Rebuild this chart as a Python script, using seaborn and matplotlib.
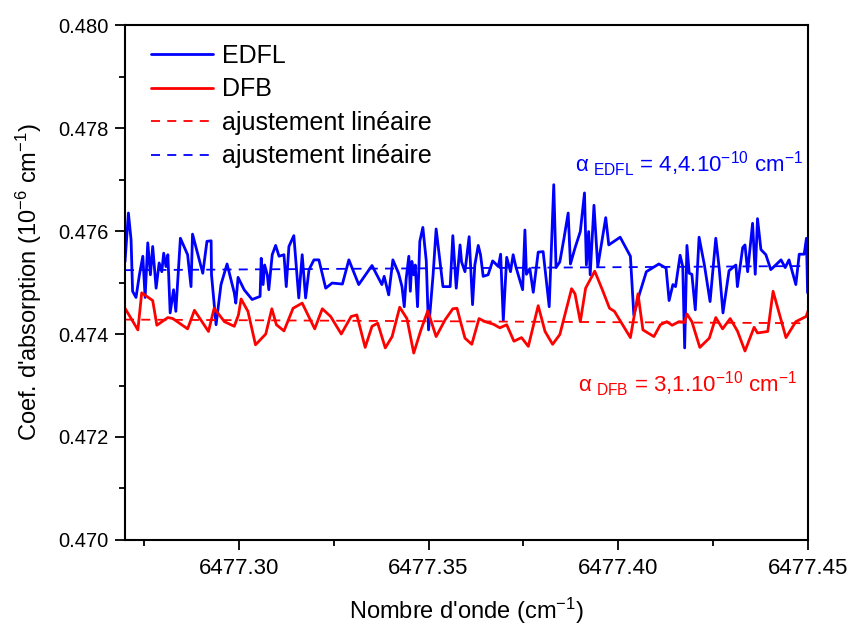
import numpy as np
import pandas as pd
import matplotlib
matplotlib.use('Agg')
import matplotlib.pyplot as plt
from matplotlib.ticker import MultipleLocator, FormatStrFormatter
import seaborn as sns

# data
edfl_x = [6477.2700, 6477.2709, 6477.2716, 6477.2720, 6477.2729, 6477.2738, 6477.2747, 6477.2753, 6477.2760, 6477.2767,
          6477.2773, 6477.2782, 6477.2790, 6477.2797, 6477.2802, 6477.2808, 6477.2813, 6477.2819, 6477.2828, 6477.2834,
          6477.2846, 6477.2865, 6477.2874, 6477.2878, 6477.2905, 6477.2916, 6477.2927, 6477.2928, 6477.2940, 6477.2953,
          6477.2969, 6477.2988, 6477.2992, 6477.2998, 6477.3014, 6477.3035, 6477.3056, 6477.3059, 6477.3064, 6477.3068,
          6477.3075, 6477.3079, 6477.3088, 6477.3097, 6477.3106, 6477.3119, 6477.3125, 6477.3132, 6477.3145, 6477.3158,
          6477.3167, 6477.3176, 6477.3185, 6477.3198, 6477.3211, 6477.3229, 6477.3246, 6477.3273, 6477.3290, 6477.3316,
          6477.3351, 6477.3377, 6477.3383, 6477.3395, 6477.3406, 6477.3421, 6477.3430, 6477.3436, 6477.3441, 6477.3448,
          6477.3452, 6477.3456, 6477.3461, 6477.3465, 6477.3471, 6477.3477, 6477.3485, 6477.3494, 6477.3500, 6477.3512,
          6477.3520, 6477.3538, 6477.3557, 6477.3564, 6477.3573, 6477.3583, 6477.3587, 6477.3596, 6477.3607, 6477.3616,
          6477.3622, 6477.3631, 6477.3637, 6477.3644, 6477.3657, 6477.3669, 6477.3684, 6477.3690, 6477.3697, 6477.3706,
          6477.3716, 6477.3723, 6477.3730, 6477.3748, 6477.3754, 6477.3758, 6477.3767, 6477.3776, 6477.3789, 6477.3802,
          6477.3818, 6477.3830, 6477.3836, 6477.3846, 6477.3857, 6477.3868, 6477.3874, 6477.3886, 6477.3900, 6477.3911,
          6477.3916, 6477.3922, 6477.3926, 6477.3936, 6477.3946, 6477.3967, 6477.3975, 6477.4005, 6477.4032, 6477.4041,
          6477.4056, 6477.4074, 6477.4107, 6477.4126, 6477.4134, 6477.4144, 6477.4151, 6477.4163, 6477.4170, 6477.4175,
          6477.4181, 6477.4187, 6477.4194, 6477.4203, 6477.4213, 6477.4227, 6477.4242, 6477.4257, 6477.4266, 6477.4276,
          6477.4292, 6477.4310, 6477.4314, 6477.4328, 6477.4334, 6477.4341, 6477.4354, 6477.4361, 6477.4367, 6477.4376,
          6477.4389, 6477.4402, 6477.4415, 6477.4429, 6477.4440, 6477.4450, 6477.4468, 6477.4477, 6477.4490, 6477.4496,
          6477.4499]
edfl_y = [0.47540, 0.47635, 0.47583, 0.47483, 0.47471, 0.47515, 0.47551, 0.47471, 0.47577, 0.47515,
          0.47570, 0.47489, 0.47538, 0.47521, 0.47557, 0.47531, 0.47554, 0.47441, 0.47486, 0.47444,
          0.47586, 0.47554, 0.47492, 0.47594, 0.47518, 0.47580, 0.47581, 0.47515, 0.47418, 0.47496,
          0.47536, 0.47480, 0.47460, 0.47510, 0.47486, 0.47467, 0.47473, 0.47547, 0.47496, 0.47534,
          0.47515, 0.47486, 0.47554, 0.47572, 0.47551, 0.47554, 0.47492, 0.47570, 0.47591, 0.47470,
          0.47554, 0.47470, 0.47525, 0.47544, 0.47544, 0.47489, 0.47499, 0.47497, 0.47544, 0.47496,
          0.47533, 0.47496, 0.47512, 0.47476, 0.47544, 0.47518, 0.47492, 0.47453, 0.47507, 0.47551,
          0.47483, 0.47541, 0.47515, 0.47534, 0.47453, 0.47580, 0.47607, 0.47542, 0.47408, 0.47515,
          0.47604, 0.47492, 0.47492, 0.47591, 0.47489, 0.47573, 0.47540, 0.47521, 0.47589, 0.47457,
          0.47534, 0.47572, 0.47554, 0.47512, 0.47515, 0.47542, 0.47531, 0.47555, 0.47426, 0.47549,
          0.47521, 0.47554, 0.47531, 0.47486, 0.47602, 0.47516, 0.47527, 0.47481, 0.47559, 0.47560,
          0.47453, 0.47690, 0.47529, 0.47540, 0.47586, 0.47635, 0.47536, 0.47567, 0.47599, 0.47674,
          0.47534, 0.47599, 0.47515, 0.47650, 0.47531, 0.47626, 0.47573, 0.47588, 0.47551, 0.47437,
          0.47478, 0.47521, 0.47536, 0.47528, 0.47465, 0.47496, 0.47492, 0.47553, 0.47531, 0.47373,
          0.47572, 0.47518, 0.47516, 0.47447, 0.47588, 0.47534, 0.47463, 0.47586, 0.47528, 0.47441,
          0.47523, 0.47534, 0.47492, 0.47568, 0.47573, 0.47521, 0.47615, 0.47516, 0.47624, 0.47564,
          0.47554, 0.47525, 0.47534, 0.47544, 0.47529, 0.47544, 0.47496, 0.47555, 0.47555, 0.47586,
          0.47480]

dfb_x = [6477.2700, 6477.2734, 6477.2744, 6477.2773, 6477.2784, 6477.2813, 6477.2826, 6477.2865, 6477.2883, 6477.2920,
         6477.2935, 6477.2962, 6477.2988, 6477.2999, 6477.3006, 6477.3024, 6477.3044, 6477.3071, 6477.3087, 6477.3099,
         6477.3119, 6477.3143, 6477.3167, 6477.3200, 6477.3220, 6477.3242, 6477.3270, 6477.3296, 6477.3311, 6477.3333,
         6477.3351, 6477.3366, 6477.3386, 6477.3404, 6477.3424, 6477.3443, 6477.3461, 6477.3480, 6477.3498, 6477.3520,
         6477.3544, 6477.3564, 6477.3575, 6477.3585, 6477.3596, 6477.3614, 6477.3633, 6477.3649, 6477.3671, 6477.3688,
         6477.3706, 6477.3725, 6477.3745, 6477.3763, 6477.3789, 6477.3807, 6477.3827, 6477.3846, 6477.3877, 6477.3886,
         6477.3900, 6477.3914, 6477.3938, 6477.3958, 6477.3977, 6477.3990, 6477.4032, 6477.4052, 6477.4065, 6477.4094,
         6477.4111, 6477.4128, 6477.4142, 6477.4160, 6477.4175, 6477.4181, 6477.4194, 6477.4215, 6477.4240, 6477.4257,
         6477.4275, 6477.4295, 6477.4314, 6477.4334, 6477.4358, 6477.4367, 6477.4394, 6477.4408, 6477.4442, 6477.4468,
         6477.4495, 6477.4503]
dfb_y = [0.47450, 0.47408, 0.47480, 0.47465, 0.47417, 0.47432, 0.47430, 0.47410, 0.47446, 0.47405,
         0.47450, 0.47424, 0.47415, 0.47437, 0.47468, 0.47444, 0.47379, 0.47400, 0.47449, 0.47418,
         0.47406, 0.47450, 0.47460, 0.47410, 0.47449, 0.47434, 0.47400, 0.47434, 0.47437, 0.47374,
         0.47415, 0.47421, 0.47373, 0.47395, 0.47452, 0.47430, 0.47363, 0.47408, 0.47445, 0.47395,
         0.47428, 0.47449, 0.47450, 0.47422, 0.47392, 0.47380, 0.47430, 0.47424, 0.47419, 0.47412,
         0.47418, 0.47386, 0.47393, 0.47376, 0.47455, 0.47405, 0.47380, 0.47399, 0.47488, 0.47478,
         0.47424, 0.47489, 0.47522, 0.47486, 0.47450, 0.47444, 0.47393, 0.47478, 0.47408, 0.47395,
         0.47418, 0.47424, 0.47417, 0.47424, 0.47423, 0.47439, 0.47424, 0.47374, 0.47392, 0.47432,
         0.47410, 0.47430, 0.47406, 0.47367, 0.47413, 0.47402, 0.47405, 0.47483, 0.47393, 0.47424,
         0.47434, 0.47450]

fit_x = [6477.27, 6477.45]
edfl_fit = [0.47524, 0.47532]
dfb_fit = [0.47428, 0.47421]

sns.set_style('ticks')
plt.rcParams['font.family'] = ['Liberation Sans', 'DejaVu Sans']
plt.rcParams['mathtext.default'] = 'regular'
plt.rcParams['text.color'] = 'black'
plt.rcParams['axes.labelcolor'] = 'black'
plt.rcParams['xtick.color'] = 'black'
plt.rcParams['ytick.color'] = 'black'

blue = '#0000ff'
red = '#ff0000'

fig = plt.figure(figsize=(8.48, 6.26), dpi=100)
ax = fig.add_axes([0.1474, 0.1374, 0.8054, 0.8226])

sns.lineplot(x=edfl_x, y=edfl_y, ax=ax, color=blue, lw=2.0, sort=False, estimator=None, label='EDFL')
sns.lineplot(x=dfb_x, y=dfb_y, ax=ax, color=red, lw=2.0, sort=False, estimator=None, label='DFB')
sns.lineplot(x=fit_x, y=dfb_fit, ax=ax, color=red, lw=1.3, linestyle=(0, (5, 4)), estimator=None,
             label='ajustement linéaire')
sns.lineplot(x=fit_x, y=edfl_fit, ax=ax, color=blue, lw=1.3, linestyle=(0, (5, 4)), estimator=None,
             label='ajustement linéaire')

ax.set_xlim(6477.27, 6477.45)
ax.set_ylim(0.470, 0.480)
ax.xaxis.set_major_locator(MultipleLocator(0.05))
ax.xaxis.set_minor_locator(MultipleLocator(0.025))
ax.yaxis.set_major_locator(MultipleLocator(0.002))
ax.yaxis.set_minor_locator(MultipleLocator(0.001))
ax.xaxis.set_major_formatter(FormatStrFormatter('%.2f'))
ax.yaxis.set_major_formatter(FormatStrFormatter('%.3f'))
ax.tick_params(which='major', direction='out', length=7, width=1.3, pad=5)
ax.tick_params(which='minor', direction='out', length=4, width=1.3)
ax.tick_params(axis='x', which='major', labelsize=16, pad=6)
ax.tick_params(axis='y', which='major', labelsize=14.5)
for s in ax.spines.values():
    s.set_visible(True)
    s.set_linewidth(1.5)
    s.set_color('black')

ax.set_xlabel("Nombre d'onde (cm$^{-1}$)", fontsize=17, labelpad=12)
ax.set_ylabel("Coef. d'absorption (10$^{-6}$ cm$^{-1}$)", fontsize=17, labelpad=10)

ax.text(0.659, 0.715, r'$\alpha$$_{\ EDFL}$ = 4,4.10$^{-10}$ cm$^{-1}$', color=blue, fontsize=16,
        transform=ax.transAxes)
ax.text(0.664, 0.287, r'$\alpha$$_{\ DFB}$ = 3,1.10$^{-10}$ cm$^{-1}$', color=red, fontsize=16,
        transform=ax.transAxes)

ax.legend(loc='upper left', frameon=False, fontsize=18, handlelength=2.5, handletextpad=0.35,
          labelspacing=0.38, borderaxespad=0.35, bbox_to_anchor=(0.01, 1.0))

fig.savefig('out.png', dpi=100)
